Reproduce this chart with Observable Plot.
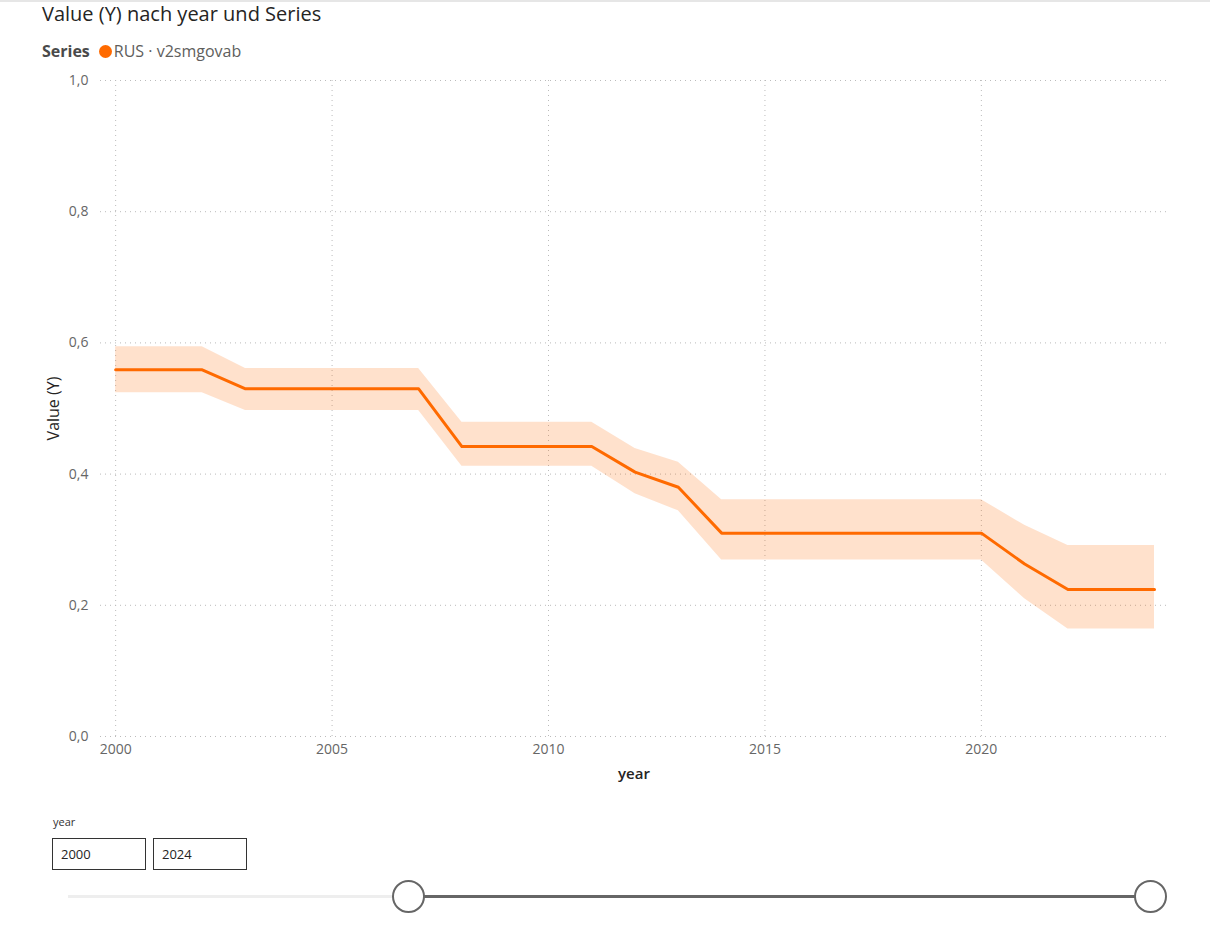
<!DOCTYPE html>
<html>
<head>
<meta charset="utf-8">
<script src="https://cdn.jsdelivr.net/npm/d3@7"></script>
<script src="https://cdn.jsdelivr.net/npm/@observablehq/plot@0.6"></script>
<style>
  html, body { margin: 0; padding: 0; background: #fff; }
  body { width: 1210px; height: 936px; position: relative; overflow: hidden; font-family: "Open Sans", "Noto Sans", sans-serif; }
  .topline { position: absolute; left: 0; top: 0; width: 1210px; height: 2px; background: #e6e6e6; }
  #title { position: absolute; left: 42px; top: 0px; font-size: 20px; color: #252423; white-space: nowrap; }
  #legend { position: absolute; left: 42px; top: 40px; font-size: 16px; color: #605e5c; white-space: nowrap; display: flex; align-items: center; }
  #legend b { color: #4a4a4a; font-weight: 700; margin-right: 9px; }
  #legend .dot { width: 13px; height: 13px; border-radius: 50%; background: #FF6A00; display: inline-block; margin-right: 2px; }
  #chart { position: absolute; left: 0; top: 70px; }
  #slab { position: absolute; left: 53px; top: 814px; font-size: 11px; color: #333; }
  .box { position: absolute; top: 838px; width: 94px; height: 32px; border: 1px solid #333; box-sizing: border-box; font-size: 13px; color: #252423; line-height: 30px; padding-left: 8px; }
  .track { position: absolute; height: 3px; top: 895px; }
  .knob { position: absolute; width: 33px; height: 33px; border-radius: 50%; border: 2px solid #666; background: #fff; box-sizing: border-box; top: 880px; }
</style>
</head>
<body>
<div class="topline"></div>
<div id="title">Value (Y) nach year und Series</div>
<div id="legend"><b>Series</b><span class="dot"></span><span>RUS · v2smgovab</span></div>
<div id="chart"></div>
<div id="slab">year</div>
<div class="box" style="left:52px">2000</div>
<div class="box" style="left:153px">2024</div>
<div class="track" style="left:68px; width:340px; background:#eeeeee"></div>
<div class="track" style="left:408px; width:742px; background:#666"></div>
<div class="knob" style="left:392px"></div>
<div class="knob" style="left:1134px"></div>
<script>
const years = [2000,2001,2002,2003,2004,2005,2006,2007,2008,2009,2010,2011,2012,2013,2014,2015,2016,2017,2018,2019,2020,2021,2022,2023,2024];
const values = [0.559,0.559,0.559,0.530,0.530,0.530,0.530,0.530,0.442,0.442,0.442,0.442,0.403,0.380,0.310,0.310,0.310,0.310,0.310,0.310,0.310,0.263,0.224,0.224,0.224];
const lower = [0.524,0.524,0.524,0.497,0.497,0.497,0.497,0.497,0.412,0.412,0.412,0.412,0.370,0.344,0.269,0.269,0.269,0.269,0.269,0.269,0.269,0.210,0.164,0.164,0.164];
const upper = [0.594,0.594,0.594,0.561,0.561,0.561,0.561,0.561,0.479,0.479,0.479,0.479,0.439,0.418,0.361,0.361,0.361,0.361,0.361,0.361,0.361,0.322,0.291,0.291,0.291];
const xTicks = [2000,2005,2010,2015,2020];
const yTicks = [0,0.2,0.4,0.6,0.8,1.0];

const data = years.map((y,i) => ({year: y, value: values[i], lo: lower[i], hi: upper[i]}));
const orange = "#FF6A00";

const chart = Plot.plot({
  width: 1210,
  height: 730,
  marginLeft: 100,
  marginRight: 43,
  marginTop: 10,
  marginBottom: 64,
  style: { fontFamily: "'Open Sans', 'Noto Sans', sans-serif", fontSize: "14px", color: "#666" },
  x: { domain: [1999.65, 2024.3], ticks: xTicks, tickFormat: d => String(d), label: null },
  y: { domain: [0, 1], ticks: yTicks, tickFormat: d => d.toFixed(1).replace(".", ","), label: null },
  marks: [
    Plot.gridY(yTicks, { stroke: "#bbb", strokeOpacity: 1, strokeDasharray: "1,4" }),
    Plot.gridX(xTicks, { stroke: "#bbb", strokeOpacity: 1, strokeDasharray: "1,4" }),
    Plot.axisX({ ticks: xTicks, tickFormat: d => String(d), tickSize: 0, tickPadding: 8, fill: "#666", fontSize: 14, label: null }),
    Plot.axisY({ ticks: yTicks, tickFormat: d => d.toFixed(1).replace(".", ","), tickSize: 0, tickPadding: 12, fill: "#666", fontSize: 14, label: null }),
    Plot.areaY(data, { x: "year", y1: "lo", y2: "hi", fill: orange, fillOpacity: 0.2 }),
    Plot.lineY(data, { x: "year", y: "value", stroke: orange, strokeWidth: 3 }),
    Plot.text(["year"], { frameAnchor: "bottom", dy: 42, fontSize: 15, fontWeight: 600, fill: "#252423" }),
    Plot.text(["Value (Y)"], { frameAnchor: "left", textAnchor: "middle", dx: -47, rotate: -90, fontSize: 16, fill: "#252423" })
  ]
});
document.getElementById("chart").appendChild(chart);
</script>
</body>
</html>
